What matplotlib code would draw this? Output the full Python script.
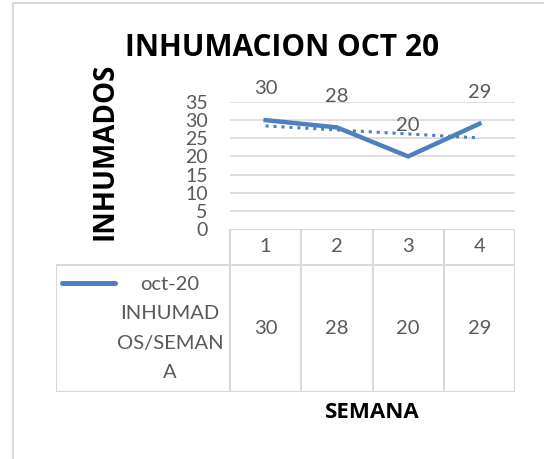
import numpy as np
import matplotlib
matplotlib.use("Agg")
import matplotlib.pyplot as plt
from matplotlib.lines import Line2D

# ==========================================
# Data
# ==========================================
semanas = [1, 2, 3, 4]
inhumados = [30, 28, 20, 29]
serie_label = "oct-20\nINHUMAD\nOS/SEMAN\nA"
y_ticks = [0, 5, 10, 15, 20, 25, 30, 35]
titulo = "INHUMACION OCT 20"

# ==========================================
# Style
# ==========================================
W, H = 544, 459
BLUE = "#4E7FBF"
GRAY_TXT = "#595959"
GRID = "#D9D9D9"
BOLD_FONT = ["Open Sans", "DejaVu Sans"]
plt.rcParams["font.family"] = ["Lato", "DejaVu Sans"]


def fx(px):
    return px / W


def fy(py):
    return 1 - py / H


fig = plt.figure(figsize=(W / 100, H / 100), dpi=100)
fig.patch.set_facecolor("white")

# outer chart frame (left and top edges visible)
fig.add_artist(Line2D([fx(13), fx(13)], [fy(3), 0], transform=fig.transFigure, color=GRID, lw=1.5))
fig.add_artist(Line2D([fx(13), 1], [fy(3), fy(3)], transform=fig.transFigure, color=GRID, lw=1.5))

# ==========================================
# Line plot
# ==========================================
x0, x1 = 230, 515
y_top, y_bot = 102, 229
ax = fig.add_axes([fx(x0), fy(y_bot), fx(x1) - fx(x0), fy(y_top) - fy(y_bot)])
ax.set_xlim(0.5, 4.5)
ax.set_ylim(0, 35)
for s in ax.spines.values():
    s.set_visible(False)
ax.set_yticks(y_ticks)
ax.set_yticklabels([str(t) for t in y_ticks], color=GRAY_TXT, fontsize=14)
ax.tick_params(axis="y", length=0, pad=16)
ax.set_xticks([])
for t in y_ticks[1:]:
    ax.axhline(t, color=GRID, lw=1.2, zorder=0)

ax.plot(semanas, inhumados, color=BLUE, lw=3.2, solid_joinstyle="miter", zorder=3)

# linear trend line
coef = np.polyfit(semanas, inhumados, 1)
trend = np.polyval(coef, semanas)
ax.plot(semanas, trend, color=BLUE, lw=2.2, ls=(0, (1, 1.6)), zorder=2)

for xv, yv in zip(semanas, inhumados):
    ax.annotate(str(yv), (xv, yv), xytext=(0, 22.5), textcoords="offset points",
                ha="center", va="center", color=GRAY_TXT, fontsize=14.5)

# ==========================================
# Data table
# ==========================================
tx0 = 56
t_head, t_mid, t_bot = 229, 265, 392
unit = (x1 - x0) / 4.0
tax = fig.add_axes([fx(tx0), fy(t_bot), fx(x1) - fx(tx0), fy(t_head) - fy(t_bot)])
tax.set_xlim(0.5 - (x0 - tx0) / unit, 4.5)
tax.set_ylim(t_bot, t_head)
tax.axis("off")

bkw = dict(color=GRID, lw=1.5, solid_capstyle="projecting")
edges = [0.5 + i for i in range(5)]
tax.plot([0.5, 4.5], [t_head, t_head], **bkw)
tax.plot([tax.get_xlim()[0], 4.5], [t_mid, t_mid], **bkw)
tax.plot([tax.get_xlim()[0], 4.5], [t_bot, t_bot], **bkw)
tax.plot([tax.get_xlim()[0]] * 2, [t_mid, t_bot], **bkw)
for e in edges:
    tax.plot([e, e], [t_head, t_bot], **bkw)

for xv, yv in zip(semanas, inhumados):
    tax.text(xv, (t_head + t_mid) / 2, str(xv), ha="center", va="center",
             color=GRAY_TXT, fontsize=14.5)
    tax.text(xv, (t_mid + t_bot) / 2, str(yv), ha="center", va="center",
             color=GRAY_TXT, fontsize=14.5)

# legend key inside table
lx0 = tax.get_xlim()[0] + (62 - tx0) / unit
lx1 = tax.get_xlim()[0] + (115 - tx0) / unit
tax.plot([lx0, lx1], [283, 283], color=BLUE, lw=3.6, solid_capstyle="round")
tax.text(tax.get_xlim()[0] + (170 - tx0) / unit, (t_mid + t_bot) / 2, serie_label,
         ha="center", va="center", color=GRAY_TXT, fontsize=14.5, linespacing=1.88)

# ==========================================
# Titles
# ==========================================
fig.text(fx(282), fy(48), titulo, ha="center", va="center", fontsize=21.5,
         fontweight="bold", color="black", family=BOLD_FONT)
fig.text(fx(105), fy(151), "INHUMADOS", ha="center", va="center", rotation=90,
         fontsize=20, fontweight="bold", color="black", family=BOLD_FONT)
fig.text(fx(372), fy(413), "SEMANA", ha="center", va="center", fontsize=16,
         fontweight="bold", color="black", family=BOLD_FONT)

fig.savefig("out.png", dpi=100)
